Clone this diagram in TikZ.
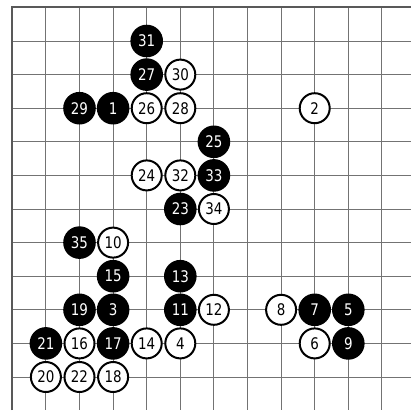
\documentclass[tikz,border=0pt]{standalone}
\usepackage{fontspec}
\newfontfamily\stonefont[FakeStretch=0.84]{DejaVu Sans}
\begin{document}
\begin{tikzpicture}[x=1pt,y=-1pt,
  gridline/.style={draw=black!55,line width=1pt},
  borderline/.style={draw=black!65,line width=2pt},
  bstone/.style={circle,fill=black,draw=black,line width=1.6pt,minimum size=31pt,inner sep=0pt,text=white,font=\stonefont\fontsize{16}{16}\selectfont},
  wstone/.style={circle,fill=white,draw=black,line width=2pt,minimum size=30pt,inner sep=0pt,text=black,font=\stonefont\fontsize{16}{16}\selectfont}]
\useasboundingbox (0,0) rectangle (411,410);
\def\ox{12.3}\def\oy{7.4}\def\sp{33.6}
\foreach \i in {1,...,11} {
  \draw[gridline] ({\ox+\sp*\i},\oy) -- ({\ox+\sp*\i},410);
  \draw[gridline] (\ox,{\oy+\sp*\i}) -- (411,{\oy+\sp*\i});
}
\draw[borderline] (\ox,410) -- (\ox,\oy) -- (411,\oy);
\foreach \c/\r/\n in {4/1/31,4/2/27,2/3/29,3/3/1,6/4/25,6/5/33,5/6/23,2/7/35,3/8/15,5/8/13,2/9/19,3/9/3,5/9/11,9/9/7,10/9/5,1/10/21,3/10/17,10/10/9}
  \node[bstone] (s\n) at ({\ox+\sp*\c},{\oy+\sp*\r}) {\n};
\foreach \c/\r/\n in {5/2/30,4/3/26,5/3/28,9/3/2,4/5/24,5/5/32,6/6/34,3/7/10,6/9/12,8/9/8,2/10/16,4/10/14,5/10/4,9/10/6,1/11/20,2/11/22,3/11/18}
  \node[wstone] (s\n) at ({\ox+\sp*\c},{\oy+\sp*\r}) {\n};
\end{tikzpicture}
\end{document}
